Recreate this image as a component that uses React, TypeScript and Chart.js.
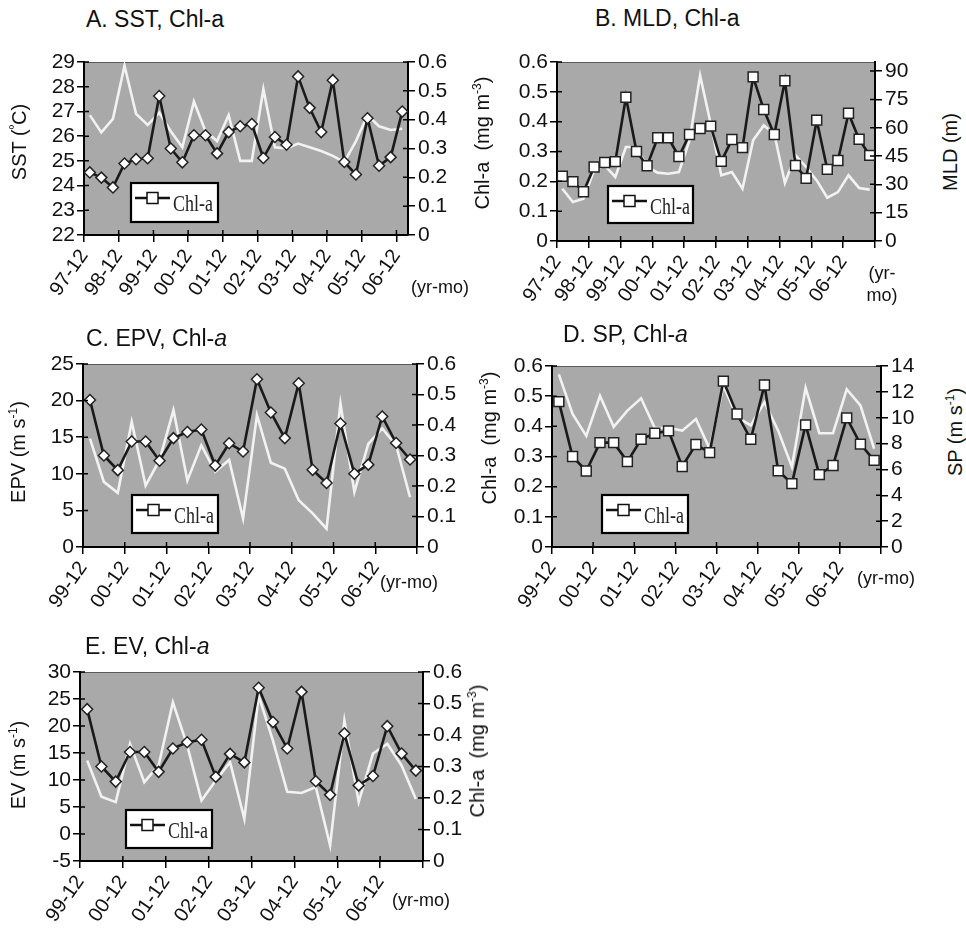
import React, { useEffect, useRef } from 'react';
import { Chart, registerables } from 'chart.js';

Chart.register(...registerables);

const FONT = "'Liberation Sans', Arial, Helvetica, sans-serif";

// x-axis tick labels (one label every third 4-monthly step)
const xLabels9712 = ['97-12', '98-12', '99-12', '00-12', '01-12', '02-12', '03-12', '04-12', '05-12', '06-12'];
const xLabels9912 = ['99-12', '00-12', '01-12', '02-12', '03-12', '04-12', '05-12', '06-12'];

// Chl-a (mg m-3), 4-monthly values starting at 97-12 (30 values)
const chlA = [
  0.217, 0.199, 0.165, 0.248, 0.263, 0.266, 0.482, 0.3, 0.252, 0.346,
  0.346, 0.283, 0.357, 0.377, 0.385, 0.267, 0.34, 0.313, 0.55, 0.441,
  0.357, 0.537, 0.253, 0.21, 0.405, 0.24, 0.27, 0.428, 0.341, 0.287,
];
const chlA9712 = chlA.slice(0, 28);
const chlA9912 = chlA.slice(6);

// SST (ºC), 28 values from 97-12
const sst = [
  26.85, 26.15, 26.7, 28.85, 26.9, 26.45, 26.95, 26.2, 25.55, 27.4,
  26.2, 25.8, 26.85, 25.0, 25.0, 27.9, 25.55, 25.5, 25.7, 25.55,
  25.4, 25.2, 24.95, 25.8, 26.85, 26.4, 26.25, 26.3,
];
// MLD (m), 30 values from 97-12
const mld = [
  27.7, 20.6, 22.4, 37.4, 40, 33.9, 49.8, 49.8, 39.2, 36.2,
  35.6, 36.5, 53.3, 87.7, 62.1, 34.8, 36.5, 27.7, 53.3, 61.2,
  56.8, 30.7, 45.4, 39.2, 32.1, 22.9, 25.9, 34.8, 28.1, 27.2,
];
// EPV (m s-1), 24 values from 99-12
const epv = [
  14.8, 8.9, 7.4, 17.1, 8.4, 11.9, 18.7, 9.1, 13.9, 10.3, 11.9, 3.9,
  18.0, 11.5, 10.7, 6.4, 4.6, 2.5, 19.6, 7.5, 14.1, 16.2, 13.9, 6.8,
];
// SP (m s-1), 24 values from 99-12
const sp = [
  13.35, 10.3, 8.6, 11.7, 9.3, 10.55, 11.5, 9.2, 9.2, 9.0, 9.9, 7.6,
  12.5, 10.05, 9.4, 11.2, 9.0, 6.2, 12.3, 8.8, 8.8, 12.2, 10.95, 7.6,
];
// EV (m s-1), 24 values from 99-12
const ev = [
  13.6, 6.9, 5.9, 16.7, 9.6, 12.7, 24.4, 16.4, 6.2, 9.9, 13.3, 2.8,
  25.6, 17.3, 7.8, 7.6, 8.7, -2.1, 21.0, 5.9, 14.9, 16.7, 12.7, 6.5,
];

type Rng = { min: number; max: number; step: number };
interface PanelCfg {
  key: string;
  box: { x: number; y: number; w: number; h: number };
  area: { l: number; r: number; t: number; b: number };
  n: number;
  xLabels: string[];
  chl: number[];
  other: number[];
  otherName: string;
  chlSide: 'left' | 'right';
  left: Rng;
  right: Rng;
  marker: 'rect' | 'rectRot';
  markerR: number;
  legend: { x: number; y: number; w: number; h: number };
}

const panels: PanelCfg[] = [
  {
    key: 'A', box: { x: 0, y: 42, w: 462, h: 278 }, area: { l: 84, r: 408, t: 62, b: 235 },
    n: 28, xLabels: xLabels9712, chl: chlA9712, other: sst, otherName: 'SST', chlSide: 'right',
    left: { min: 22, max: 29, step: 1 }, right: { min: 0, max: 0.6, step: 0.1 },
    marker: 'rectRot', markerR: 5.5, legend: { x: 131, y: 183, w: 87, h: 39 },
  },
  {
    key: 'B', box: { x: 470, y: 42, w: 452, h: 278 }, area: { l: 557, r: 875, t: 62, b: 241 },
    n: 30, xLabels: xLabels9712, chl: chlA, other: mld, otherName: 'MLD', chlSide: 'left',
    left: { min: 0, max: 0.6, step: 0.1 }, right: { min: 0, max: 94.8, step: 15 },
    marker: 'rect', markerR: 7, legend: { x: 608, y: 186, w: 85, h: 37 },
  },
  {
    key: 'C', box: { x: 0, y: 344, w: 470, h: 276 }, area: { l: 83, r: 417, t: 364, b: 547 },
    n: 24, xLabels: xLabels9912, chl: chlA9912, other: epv, otherName: 'EPV', chlSide: 'right',
    left: { min: 0, max: 25, step: 5 }, right: { min: 0, max: 0.6, step: 0.1 },
    marker: 'rectRot', markerR: 5.5, legend: { x: 132, y: 495, w: 86, h: 38 },
  },
  {
    key: 'D', box: { x: 470, y: 346, w: 462, h: 274 }, area: { l: 552, r: 881, t: 366, b: 547 },
    n: 24, xLabels: xLabels9912, chl: chlA9912, other: sp, otherName: 'SP', chlSide: 'left',
    left: { min: 0, max: 0.6, step: 0.1 }, right: { min: 0, max: 14, step: 2 },
    marker: 'rect', markerR: 7, legend: { x: 602, y: 495, w: 86, h: 38 },
  },
  {
    key: 'E', box: { x: 0, y: 652, w: 480, h: 282 }, area: { l: 80, r: 423, t: 672, b: 861 },
    n: 24, xLabels: xLabels9912, chl: chlA9912, other: ev, otherName: 'EV', chlSide: 'right',
    left: { min: -5, max: 30, step: 5 }, right: { min: 0, max: 0.6, step: 0.1 },
    marker: 'rectRot', markerR: 5.5, legend: { x: 126, y: 810, w: 86, h: 38 },
  },
];

const tickFont = { family: FONT, size: 21 };

function yScale(pos: 'left' | 'right', rng: Rng, width: number) {
  return {
    type: 'linear' as const,
    position: pos,
    min: rng.min,
    max: rng.max,
    ticks: {
      stepSize: rng.step, autoSkip: false, includeBounds: false,
      font: tickFont, color: '#111', padding: pos === 'left' ? 2 : 3,
    },
    grid: { drawOnChartArea: false, drawTicks: true, tickLength: 7, color: '#000', lineWidth: 1.5 },
    border: { display: true, color: '#000', width: 2 },
    afterFit: (s: any) => { s.width = width; },
  };
}

function PanelChart({ cfg }: { cfg: PanelCfg }) {
  const ref = useRef<HTMLCanvasElement>(null);
  useEffect(() => {
    const c = ref.current;
    if (!c) return;
    const { box, area } = cfg;
    const lw = area.l - box.x;
    const rw = box.x + box.w - area.r;
    const pt = area.t - box.y;
    const xh = box.y + box.h - area.b;
    const chlAxis = cfg.chlSide === 'left' ? 'yL' : 'yR';
    const otherAxis = cfg.chlSide === 'left' ? 'yR' : 'yL';
    const toPts = (arr: number[]) => arr.map((v, i) => ({ x: i + 0.5, y: v }));

    const deco = {
      id: 'deco' + cfg.key,
      beforeDraw(chart: any) {
        const ctx = chart.ctx;
        const ca = chart.chartArea;
        ctx.save();
        ctx.fillStyle = '#a9a9a9';
        ctx.fillRect(ca.left, ca.top, ca.right - ca.left, ca.bottom - ca.top);
        ctx.strokeStyle = '#5a5a5a';
        ctx.lineWidth = 1;
        ctx.beginPath();
        ctx.moveTo(ca.left, ca.top + 0.5);
        ctx.lineTo(ca.right, ca.top + 0.5);
        ctx.stroke();
        ctx.restore();
      },
      afterDraw(chart: any) {
        const ctx = chart.ctx;
        const ca = chart.chartArea;
        ctx.save();
        ctx.strokeStyle = '#000';
        ctx.lineWidth = 1.5;
        ctx.beginPath();
        (['yL', 'yR'] as const).forEach((id) => {
          const s = chart.scales[id];
          const x0 = id === 'yL' ? ca.left : ca.right;
          const dir = id === 'yL' ? 1 : -1;
          s.ticks.forEach((t: any) => {
            const y = s.getPixelForValue(t.value);
            ctx.moveTo(x0, y);
            ctx.lineTo(x0 + dir * 5, y);
          });
        });
        const sx = chart.scales.x;
        sx.ticks.forEach((t: any) => {
          const x = sx.getPixelForValue(t.value);
          ctx.moveTo(x, ca.bottom);
          ctx.lineTo(x, ca.bottom - 5);
        });
        ctx.stroke();

        // legend box
        const lg = cfg.legend;
        const lx = lg.x - box.x;
        const ly = lg.y - box.y;
        ctx.fillStyle = '#fff';
        ctx.fillRect(lx, ly, lg.w, lg.h);
        ctx.strokeStyle = '#000';
        ctx.lineWidth = 2.2;
        ctx.strokeRect(lx, ly, lg.w, lg.h);
        const my = ly + 15;
        ctx.strokeStyle = '#111';
        ctx.lineWidth = 2.5;
        ctx.beginPath();
        ctx.moveTo(lx + 4, my);
        ctx.lineTo(lx + 39, my);
        ctx.stroke();
        ctx.fillStyle = '#fff';
        ctx.fillRect(lx + 16, my - 5.5, 11, 11);
        ctx.lineWidth = 1.5;
        ctx.strokeRect(lx + 16, my - 5.5, 11, 11);
        ctx.save();
        ctx.translate(lx + 42, ly + 28);
        ctx.scale(0.78, 1);
        ctx.font = "23px 'Liberation Serif', 'DejaVu Serif', serif";
        ctx.fillStyle = '#222';
        ctx.textBaseline = 'alphabetic';
        ctx.textAlign = 'left';
        ctx.fillText('Chl-a', 0, 0);
        ctx.restore();
        ctx.restore();
      },
    };

    const chart = new Chart(c, {
      type: 'line',
      data: {
        datasets: [
          {
            label: 'Chl-a',
            data: toPts(cfg.chl),
            yAxisID: chlAxis,
            borderColor: '#1a1a1a',
            borderWidth: 2.6,
            pointStyle: cfg.marker,
            pointRadius: cfg.markerR,
            pointBackgroundColor: '#fff',
            pointBorderColor: '#222',
            pointBorderWidth: 1.5,
            tension: 0,
            order: 0,
          },
          {
            label: cfg.otherName,
            data: toPts(cfg.other),
            yAxisID: otherAxis,
            borderColor: '#f2f2f2',
            borderWidth: 2.6,
            pointRadius: 0,
            tension: 0,
            order: 1,
          },
        ],
      },
      options: {
        responsive: false,
        animation: false,
        devicePixelRatio: 1,
        layout: { padding: { top: pt, left: 0, right: 0, bottom: 0 } },
        plugins: { legend: { display: false }, tooltip: { enabled: false }, title: { display: false } },
        scales: {
          x: {
            type: 'linear',
            position: 'bottom',
            min: 0,
            max: cfg.n,
            ticks: {
              stepSize: 3, autoSkip: false, includeBounds: false,
              minRotation: 55, maxRotation: 55,
              font: { family: FONT, size: 20 }, color: '#111', padding: 3,
              callback: (v: any) => {
                const num = Number(v);
                const i = Math.round(num / 3);
                return Math.abs(num - i * 3) < 1e-6 && i < cfg.xLabels.length ? cfg.xLabels[i] : '';
              },
            },
            grid: { drawOnChartArea: false, drawTicks: true, tickLength: 7, color: '#000', lineWidth: 1.5 },
            border: { display: true, color: '#000', width: 2 },
            afterFit: (s: any) => { s.height = xh; },
          },
          yL: yScale('left', cfg.left, lw),
          yR: yScale('right', cfg.right, rw),
        },
      } as any,
      plugins: [deco],
    });
    return () => chart.destroy();
  }, [cfg]);
  return (
    <canvas
      ref={ref}
      width={cfg.box.w}
      height={cfg.box.h}
      style={{ position: 'absolute', left: cfg.box.x, top: cfg.box.y, width: cfg.box.w, height: cfg.box.h }}
    />
  );
}

const baseText: React.CSSProperties = {
  position: 'absolute', fontFamily: FONT, color: '#111', whiteSpace: 'nowrap', lineHeight: 1,
};

function Title({ x, y, children }: { x: number; y: number; children: React.ReactNode }) {
  return <div style={{ ...baseText, left: x, top: y, fontSize: 23 }}>{children}</div>;
}

function VText({ cx, cy, children }: { cx: number; cy: number; children: React.ReactNode }) {
  return (
    <div style={{ ...baseText, left: cx, top: cy, fontSize: 20, transform: 'translate(-50%,-50%) rotate(-90deg)' }}>
      {children}
    </div>
  );
}

function CText({ cx, cy, children }: { cx: number; cy: number; children: React.ReactNode }) {
  return (
    <div style={{ ...baseText, left: cx, top: cy, fontSize: 18, transform: 'translate(-50%,-50%)' }}>{children}</div>
  );
}

const sup: React.CSSProperties = { fontSize: '0.6em', verticalAlign: 'super', lineHeight: 0 };

function ChlTitle() {
  return (
    <>
      Chl-a&nbsp;&nbsp;(mg m<span style={sup}>-3</span>)
    </>
  );
}

export default function App() {
  return (
    <div style={{ position: 'absolute', left: 0, top: 0, width: 966, height: 934, background: '#fff', overflow: 'hidden' }}>
      {panels.map((p) => (
        <PanelChart key={p.key} cfg={p} />
      ))}
      <Title x={86} y={8}>A. SST, Chl-a</Title>
      <Title x={595} y={7}>B. MLD, Chl-a</Title>
      <Title x={86} y={327}>C. EPV, Chl-<i>a</i></Title>
      <Title x={563} y={323}>D. SP, Chl-<i>a</i></Title>
      <Title x={85} y={635}>E. EV, Chl-<i>a</i></Title>

      <VText cx={19} cy={142}>SST (<span style={sup}>º</span>C)</VText>
      <VText cx={482} cy={143}><ChlTitle /></VText>
      <VText cx={950} cy={152}>MLD (m)</VText>
      <VText cx={18} cy={452}>EPV (m s<span style={sup}>-1</span>)</VText>
      <VText cx={489} cy={438}><ChlTitle /></VText>
      <VText cx={955} cy={432}>SP (m s<span style={sup}>-1</span>)</VText>
      <VText cx={18} cy={765}>EV (m s<span style={sup}>-1</span>)</VText>
      <VText cx={477} cy={751}><ChlTitle /></VText>

      <CText cx={440} cy={287}>(yr-mo)</CText>
      <CText cx={882} cy={273}>(yr-</CText>
      <CText cx={882} cy={295}>mo)</CText>
      <CText cx={409} cy={582}>(yr-mo)</CText>
      <CText cx={886} cy={578}>(yr-mo)</CText>
      <CText cx={421} cy={900}>(yr-mo)</CText>
    </div>
  );
}
